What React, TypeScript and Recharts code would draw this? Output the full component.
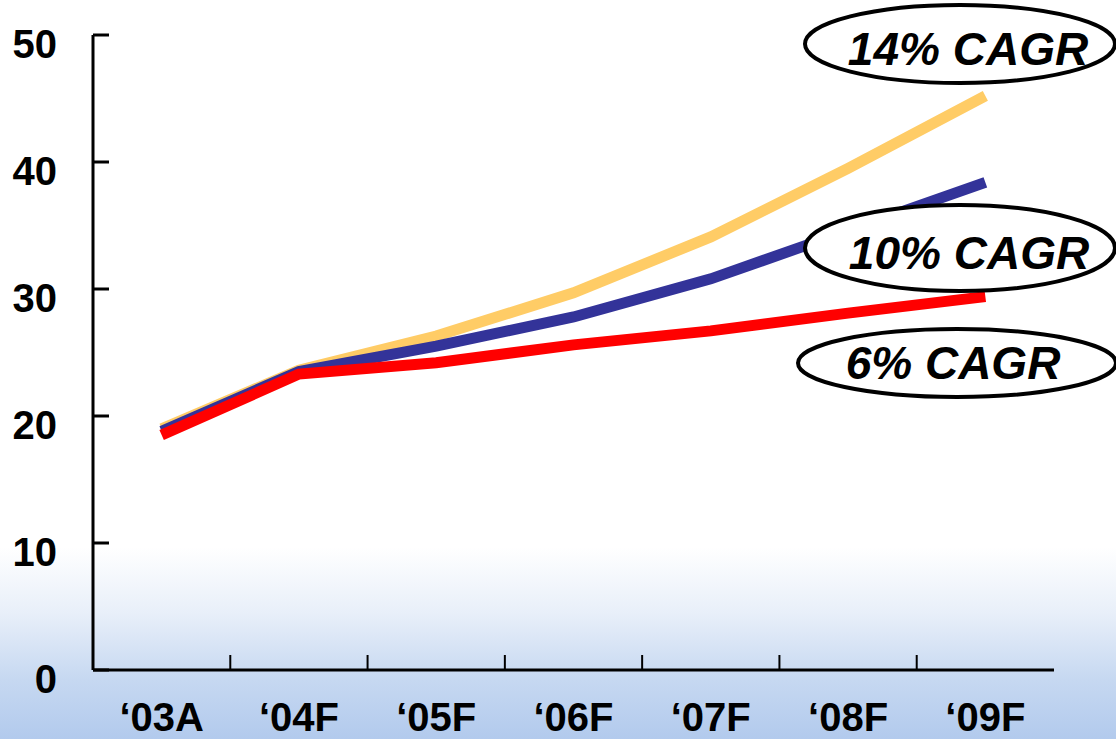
import React from "react";
import { LineChart, Line, XAxis, YAxis } from "recharts";

const years = ["\u201803A", "\u201804F", "\u201805F", "\u201806F", "\u201807F", "\u201808F", "\u201809F"];
const high = [19.0, 23.6, 26.3, 29.7, 34.1, 39.5, 45.2];
const mid = [18.8, 23.5, 25.5, 27.8, 30.8, 34.6, 38.4];
const low = [18.5, 23.3, 24.2, 25.6, 26.7, 28.1, 29.4];
const yTicks = [0, 10, 20, 30, 40, 50];

const cagrLabels = ["14% CAGR", "10% CAGR", "6% CAGR"];
// ellipse placement for each label (same order as cagrLabels)
const badges = [
  { cx: 960, cy: 44, rx: 155, ry: 39, tx: 968, ty: 65 },
  { cx: 960, cy: 248, rx: 155, ry: 43, tx: 969, ty: 269 },
  { cx: 957, cy: 363, rx: 159, ry: 34, tx: 953, ty: 379 },
];

const data = years.map((year, i) => ({ year, high: high[i], mid: mid[i], low: low[i] }));

const FONT = "'Liberation Sans', Arial, sans-serif";
const BAND = 961 / 7;

const XTick = (props: any) => {
  const { x, y, payload, index } = props;
  return (
    <g>
      {index > 0 && (
        <line x1={x - BAND / 2} x2={x - BAND / 2} y1={y - 15} y2={y} stroke="#000" strokeWidth={2} />
      )}
      <text x={x} y={y + 61} textAnchor="middle" fontFamily={FONT} fontWeight="bold" fontSize={40} fill="#000">
        {payload.value}
      </text>
    </g>
  );
};

const YTick = (props: any) => {
  const { x, y, payload } = props;
  return (
    <g>
      <line x1={x} x2={x + 16} y1={y} y2={y} stroke="#000" strokeWidth={3} />
      <text x={x - 36} y={y + 23} textAnchor="end" fontFamily={FONT} fontWeight="bold" fontSize={40} fill="#000">
        {payload.value}
      </text>
    </g>
  );
};

export default function App() {
  return (
    <div
      style={{
        position: "absolute",
        left: 0,
        top: 0,
        width: 1116,
        height: 739,
        background: "linear-gradient(to bottom, #ffffff 0%, #ffffff 74%, #e8eff9 83%, #c6d8f1 92%, #b2caed 100%)",
        overflow: "hidden",
      }}
    >
      <LineChart width={1116} height={739} data={data} margin={{ top: 35, right: 62, bottom: 0, left: 0 }}>
        <XAxis
          dataKey="year"
          scale="band"
          height={69}
          tickLine={false}
          tickSize={0}
          tickMargin={0}
          axisLine={{ stroke: "#000", strokeWidth: 3 }}
          tick={<XTick />}
          interval={0}
        />
        <YAxis
          width={93}
          domain={[0, 50]}
          ticks={yTicks}
          tickLine={false}
          tickSize={0}
          tickMargin={0}
          axisLine={{ stroke: "#000", strokeWidth: 3 }}
          tick={<YTick />}
          interval={0}
        />
        <Line dataKey="high" stroke="#FFCC66" strokeWidth={11} dot={false} isAnimationActive={false} />
        <Line dataKey="mid" stroke="#333399" strokeWidth={11} dot={false} isAnimationActive={false} />
        <Line dataKey="low" stroke="#FF0000" strokeWidth={11} dot={false} isAnimationActive={false} />
      </LineChart>
      <svg width={1116} height={739} style={{ position: "absolute", left: 0, top: 0, pointerEvents: "none" }}>
        {cagrLabels.map((label, i) => {
          const b = badges[i];
          return (
            <g key={label}>
              <ellipse cx={b.cx} cy={b.cy} rx={b.rx} ry={b.ry} fill="#fff" stroke="#000" strokeWidth={4} />
              <text
                x={b.tx}
                y={b.ty}
                textAnchor="middle"
                fontFamily={FONT}
                fontWeight="bold"
                fontStyle="italic"
                fontSize={46}
                fill="#000"
              >
                {label}
              </text>
            </g>
          );
        })}
      </svg>
    </div>
  );
}
